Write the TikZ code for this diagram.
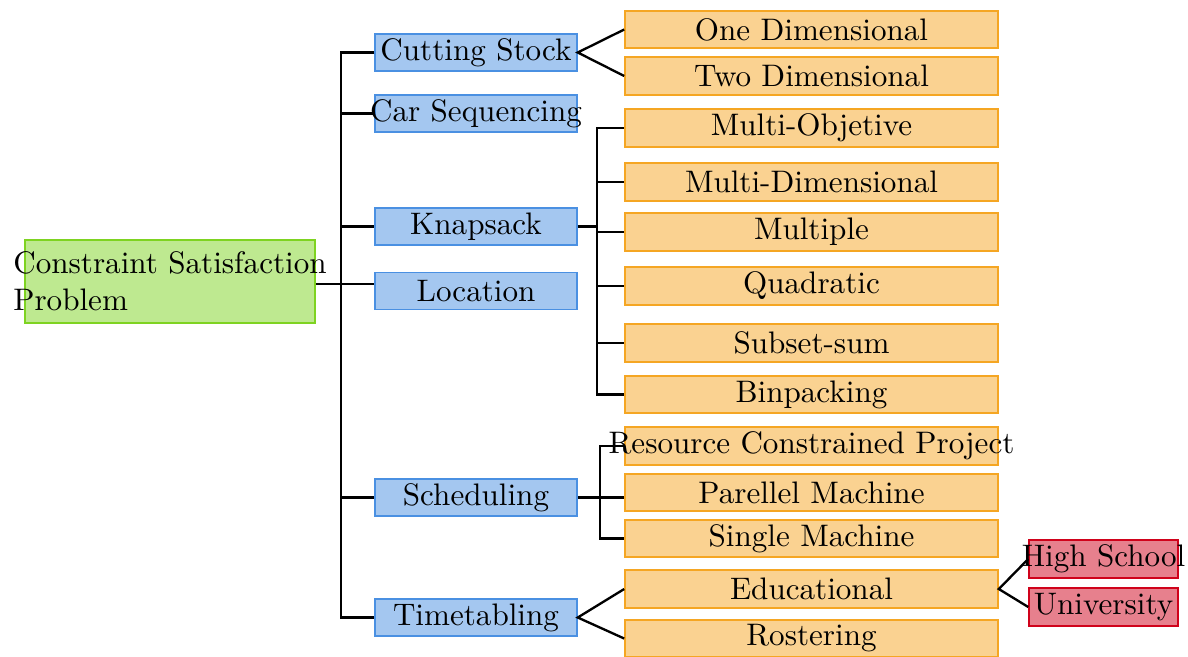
\documentclass[tikz,border=0pt]{standalone}
\usepackage{amsmath}
\usepackage{tikz}
\usetikzlibrary{positioning, calc}
\definecolor{rootc}{RGB}{126,211,33}
\definecolor{areac}{RGB}{74,144,226}
\definecolor{typec}{RGB}{245,166,35}
\definecolor{subc}{RGB}{208,2,27}

\begin{document}
\begin{tikzpicture}[x=0.3214pt, y=-0.3214pt, inner sep=0pt,
    rootbox/.style={draw=rootc, fill=rootc!50, line width=0.5pt, minimum width=93.2pt, minimum height=26.7pt},
    areabox/.style={draw=areac, fill=areac!50, line width=0.5pt, minimum width=64.9pt, minimum height=11.9pt},
    typebox/.style={draw=typec, fill=typec!50, line width=0.5pt, minimum width=119.9pt, minimum height=12.05pt},
    subbox/.style={draw=subc, fill=subc!50, line width=0.5pt, minimum width=47.9pt, minimum height=12.2pt},
    link/.style={line width=0.75pt}]
    \useasboundingbox (0,0) rectangle (1188,656);

    % Root Box
    \node[rootbox, label={[align=left]center:Constraint Satisfaction\\Problem}] (csp) at (170,281.5) {};

    % Problem areas
    \node[areabox] (cut) at (476,52.5) {Cutting Stock};
    \node[areabox] (car) at (476,113.5) {\makebox[0pt]{Car Sequencing}};
    \node[areabox] (knap) at (476,226.5) {Knapsack};
    \node[areabox] (loc) at (476,291) {Location};
    \node[areabox] (sched) at (476,497.5) {Scheduling};
    \node[areabox] (time) at (476,617.5) {Timetabling};

    % Problem types
    \node[typebox] (one) at (811.5,29.5) {One Dimensional};
    \node[typebox] (two) at (811.5,76) {Two Dimensional};
    \node[typebox] (mobj) at (811.5,128) {Multi-Objetive};
    \node[typebox] (mdim) at (811.5,182) {Multi-Dimensional};
    \node[typebox] (mult) at (811.5,232) {Multiple};
    \node[typebox] (quad) at (811.5,286) {Quadratic};
    \node[typebox] (subs) at (811.5,343) {Subset-sum};
    \node[typebox] (binp) at (811.5,394.5) {Binpacking};
    \node[typebox] (rcp) at (811.5,446) {\makebox[0pt]{Resource Constrained Project}};
    \node[typebox] (par) at (811.5,492.5) {Parellel Machine};
    \node[typebox] (single) at (811.5,538.5) {Single Machine};
    \node[typebox] (edu) at (811.5,589) {Educational};
    \node[typebox] (rost) at (811.5,638.5) {Rostering};

    % Educational subtypes
    \node[subbox] (high) at (1103.5,559) {\makebox[0pt]{High School}};
    \node[subbox] (uni) at (1103.5,607) {University};

    % Trunk from the root
    \coordinate (jroot) at (341,0);
    \draw[link] ([yshift=-0.8pt]csp.east) -- ([yshift=-0.8pt]csp.east -| loc.west);
    \draw[link] (cut.west) -- (cut.west -| jroot) -- (time.west -| jroot) -- (time.west);
    \foreach \a in {car, knap, sched}
      \draw[link] (\a.west -| jroot) -- (\a.west);

    % Knapsack branches
    \coordinate (jknap) at (597,0);
    \draw[link] (knap.east) -- (knap.east -| jknap);
    \draw[link] (mobj.west) -- (mobj.west -| jknap) -- (binp.west -| jknap) -- (binp.west);
    \foreach \t in {mdim, mult, quad, subs}
      \draw[link] (\t.west -| jknap) -- (\t.west);

    % Scheduling branches
    \coordinate (jsched) at (600,0);
    \draw[link] (sched.east) -- (sched.east -| par.west);
    \draw[link] (rcp.west) -- (rcp.west -| jsched) -- (single.west -| jsched) -- (single.west);

    % Fans
    \draw[link] (one.west) -- (cut.east) -- (two.west);
    \draw[link] (edu.west) -- (time.east) -- (rost.west);
    \draw[link] (high.west) -- (edu.east) -- (uni.west);
\end{tikzpicture}
\end{document}
